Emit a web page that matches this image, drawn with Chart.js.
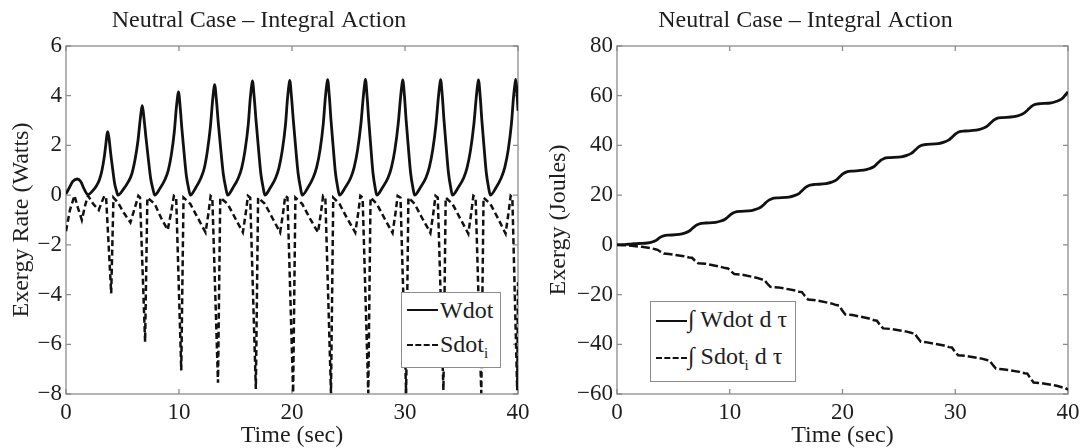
<!DOCTYPE html>
<html>
<head>
<meta charset="utf-8">
<script src="https://cdn.jsdelivr.net/npm/chart.js@4.4.0/dist/chart.umd.min.js"></script>
<style>
  html, body { margin: 0; padding: 0; background: #fff; }
  #wrap { position: relative; width: 1086px; height: 448px; background: #fff; overflow: hidden; }
  .cv { position: absolute; top: 0; }
  .lg { position: absolute; background: #fff; border: 1px solid #8c8c8c; box-sizing: border-box; }
  .txt { position: absolute; font-family: "Liberation Serif", "Times New Roman", serif; font-size: 24px; color: #1e1e1e; white-space: nowrap; line-height: 1; }
  .txt sub { font-size: 15px; vertical-align: -6px; }
  .solid { position: absolute; height: 0; border-top: 2.6px solid #111; }
  .dash { position: absolute; height: 0; border-top: 2.6px dashed #111; }
</style>
</head>
<body>
<div id="wrap">
  <canvas id="c1" class="cv" width="543" height="448" style="left:0"></canvas>
  <canvas id="c2" class="cv" width="543" height="448" style="left:543px"></canvas>

  <div class="lg" style="left:401px;top:292px;width:100px;height:76px"></div>
  <div class="solid" style="left:407px;top:309px;width:31px"></div>
  <div class="txt" style="left:440px;top:298px">Wdot</div>
  <div class="dash" style="left:407px;top:344px;width:31px"></div>
  <div class="txt" style="left:440px;top:332px">Sdot<sub>i</sub></div>

  <div class="lg" style="left:650px;top:301px;width:146px;height:81px"></div>
  <div class="solid" style="left:656px;top:320px;width:31px"></div>
  <div class="txt" style="left:688px;top:307px">∫ Wdot d τ</div>
  <div class="dash" style="left:656px;top:357px;width:31px"></div>
  <div class="txt" style="left:688px;top:344px">∫ Sdot<sub>i</sub> d τ</div>
</div>
<script>
// ---------------- data (time in s, value) ----------------
const titleText = 'Neutral Case \u2013 Integral Action';
const xTicks = [0, 10, 20, 30, 40];
const leftYTicks = [-8, -6, -4, -2, 0, 2, 4, 6];
const rightYTicks = [-60, -40, -20, 0, 20, 40, 60, 80];

const wdot = [
 [0,0.05],[0.3,0.3],[0.6,0.55],[1.0,0.65],[1.3,0.55],[1.6,0.25],[1.95,0.02],
 [2.35,0.17],[2.7,0.38],[2.95,0.61],[3.18,0.99],[3.4,1.58],[3.55,2.14],[3.62,2.42],[3.7,2.55],[3.83,2.2],[3.96,1.66],[4.13,1.05],[4.3,0.48],[4.47,0.17],[4.6,0],
 [5.07,0.23],[5.52,0.54],[5.83,0.86],[6.1,1.4],[6.38,2.23],[6.56,3.02],[6.67,3.42],[6.75,3.6],[6.9,3.1],[7.07,2.34],[7.28,1.48],[7.49,0.68],[7.7,0.23],[7.85,0],
 [8.31,0.27],[8.75,0.62],[9.05,1.0],[9.32,1.62],[9.59,2.57],[9.76,3.49],[9.87,3.94],[9.95,4.15],[10.1,3.57],[10.25,2.7],[10.45,1.7],[10.65,0.79],[10.85,0.27],[11.0,0],
 [11.47,0.29],[11.92,0.67],[12.23,1.07],[12.5,1.74],[12.78,2.76],[12.96,3.74],[13.07,4.23],[13.15,4.45],[13.31,3.83],[13.48,2.89],[13.7,1.82],[13.92,0.85],[14.14,0.29],[14.3,0],
 [14.78,0.3],[15.25,0.69],[15.55,1.1],[15.84,1.79],[16.13,2.85],[16.3,3.86],[16.42,4.37],[16.5,4.6],[16.65,3.96],[16.82,2.99],[17.03,1.89],[17.24,0.87],[17.45,0.3],[17.6,0],
 [18.08,0.3],[18.55,0.69],[18.85,1.11],[19.14,1.8],[19.43,2.86],[19.6,3.88],[19.72,4.39],[19.8,4.62],[19.95,3.97],[20.12,3.0],[20.33,1.89],[20.54,0.88],[20.75,0.3],[20.9,0],
 [21.4,0.3],[21.87,0.7],[22.18,1.12],[22.48,1.81],[22.77,2.88],[22.95,3.91],[23.07,4.42],[23.15,4.65],[23.3,4.0],[23.45,3.02],[23.65,1.91],[23.85,0.88],[24.05,0.3],[24.2,0],
 [24.7,0.3],[25.2,0.7],[25.5,1.12],[25.8,1.81],[26.1,2.88],[26.3,3.91],[26.42,4.43],[26.5,4.66],[26.64,4.0],[26.79,3.02],[26.98,1.91],[27.17,0.88],[27.36,0.3],[27.5,0],
 [28.0,0.3],[28.5,0.7],[28.8,1.12],[29.1,1.81],[29.4,2.88],[29.6,3.9],[29.72,4.41],[29.8,4.64],[29.95,4.0],[30.1,3.02],[30.3,1.91],[30.5,0.88],[30.7,0.3],[30.85,0],
 [31.35,0.3],[31.85,0.7],[32.15,1.12],[32.45,1.81],[32.75,2.88],[32.95,3.91],[33.07,4.42],[33.15,4.65],[33.3,4.0],[33.45,3.02],[33.65,1.91],[33.85,0.88],[34.05,0.3],[34.2,0],
 [34.7,0.3],[35.2,0.7],[35.5,1.12],[35.8,1.81],[36.1,2.88],[36.3,3.9],[36.42,4.41],[36.5,4.64],[36.65,4.0],[36.8,3.02],[37.0,1.91],[37.2,0.88],[37.4,0.3],[37.55,0],
 [38.05,0.3],[38.52,0.7],[38.83,1.12],[39.13,1.81],[39.42,2.88],[39.6,3.92],[39.72,4.43],[39.8,4.66],[39.9,4.2],[40.0,3.4]
];

const sdot = [
 [0,-1.45],[0.35,-0.6],[0.75,-0.02],[1.05,-0.5],[1.4,-1.0],[1.7,-0.4],[1.95,-0.02],[2.4,-0.35],[2.9,-0.6],[3.15,-0.3],[3.4,-0.03],[3.55,-0.1],[4.0,-3.95],[4.2,-0.1],
 [4.6,-0.3],[5.1,-0.7],[5.7,-1.1],[6.1,-0.5],[6.4,-0.03],[6.55,-0.1],[7.0,-5.9],[7.2,-0.1],
 [7.85,-0.35],[8.4,-0.9],[9.0,-1.4],[9.3,-0.7],[9.55,-0.03],[9.75,-0.1],[10.2,-7.05],[10.4,-0.1],
 [11.0,-0.35],[11.7,-0.95],[12.35,-1.5],[12.6,-0.75],[12.8,-0.03],[12.95,-0.1],[13.45,-7.55],[13.65,-0.1],
 [14.3,-0.35],[15.0,-0.95],[15.65,-1.5],[15.9,-0.75],[16.1,-0.03],[16.3,-0.1],[16.8,-7.8],[17.0,-0.1],
 [17.6,-0.35],[18.3,-0.95],[18.95,-1.5],[19.2,-0.75],[19.4,-0.03],[19.6,-0.1],[20.1,-7.95],[20.3,-0.1],
 [20.9,-0.35],[21.6,-0.95],[22.3,-1.5],[22.55,-0.75],[22.75,-0.03],[22.95,-0.1],[23.45,-7.97],[23.65,-0.1],
 [24.2,-0.35],[24.9,-0.95],[25.6,-1.5],[25.85,-0.75],[26.05,-0.03],[26.25,-0.1],[26.75,-7.97],[26.95,-0.1],
 [27.5,-0.35],[28.2,-0.95],[28.9,-1.52],[29.15,-0.75],[29.35,-0.03],[29.6,-0.1],[30.1,-7.97],[30.3,-0.1],
 [30.85,-0.35],[31.55,-0.95],[32.25,-1.52],[32.5,-0.75],[32.7,-0.03],[32.9,-0.1],[33.4,-7.85],[33.6,-0.1],
 [34.2,-0.35],[34.9,-0.95],[35.6,-1.55],[35.85,-0.75],[36.05,-0.03],[36.25,-0.1],[36.75,-7.97],[36.95,-0.1],
 [37.55,-0.35],[38.25,-0.95],[38.9,-1.55],[39.15,-0.75],[39.35,-0.03],[39.5,-0.1],[39.93,-7.85],[40.0,-3.5]
];

const intW = [
 [0,0],[0.5,0.05],[1.0,0.25],[1.5,0.45],[1.95,0.55],
 [2.7,0.75],[3.09,1.12],[3.4,1.62],[3.54,2.06],[3.7,2.59],[3.83,3.0],[3.96,3.33],[4.13,3.63],[4.3,3.82],[4.6,3.9],
 [5.52,4.19],[6.0,4.73],[6.38,5.47],[6.56,6.1],[6.75,6.89],[6.9,7.48],[7.07,7.97],[7.28,8.41],[7.49,8.68],[7.85,8.8],
 [8.75,9.08],[9.22,9.6],[9.59,10.3],[9.76,10.92],[9.95,11.67],[10.1,12.23],[10.25,12.7],[10.45,13.12],[10.65,13.38],[11.0,13.5],
 [11.92,13.82],[12.4,14.42],[12.78,15.23],[12.96,15.93],[13.15,16.79],[13.31,17.44],[13.48,17.98],[13.7,18.47],[13.92,18.77],[14.3,18.9],
 [15.25,19.22],[15.73,19.82],[16.13,20.63],[16.3,21.33],[16.5,22.19],[16.65,22.84],[16.82,23.38],[17.03,23.87],[17.24,24.17],[17.6,24.3],
 [18.55,24.62],[19.03,25.22],[19.43,26.03],[19.6,26.73],[19.8,27.59],[19.95,28.24],[20.12,28.78],[20.33,29.27],[20.54,29.57],[20.9,29.7],
 [21.87,30.02],[22.36,30.62],[22.77,31.43],[22.95,32.13],[23.15,32.99],[23.3,33.64],[23.45,34.18],[23.65,34.67],[23.85,34.97],[24.2,35.1],
 [25.2,35.42],[25.7,36.0],[26.1,36.8],[26.3,37.49],[26.5,38.33],[26.64,38.97],[26.79,39.5],[26.98,39.98],[27.17,40.27],[27.5,40.4],
 [28.5,40.72],[29.0,41.32],[29.4,42.13],[29.6,42.83],[29.8,43.69],[29.95,44.34],[30.1,44.88],[30.3,45.37],[30.5,45.67],[30.85,45.8],
 [31.85,46.12],[32.35,46.72],[32.75,47.53],[32.95,48.23],[33.15,49.09],[33.3,49.74],[33.45,50.28],[33.65,50.77],[33.85,51.07],[34.2,51.2],
 [35.2,51.54],[35.7,52.15],[36.1,53.0],[36.3,53.72],[36.5,54.62],[36.65,55.29],[36.8,55.85],[37.0,56.35],[37.2,56.66],[37.55,56.8],
 [38.52,57.15],[39.0,57.79],[39.42,58.66],[39.6,59.41],[39.8,60.5],[40.0,61.5]
];

const intS = [
 [0,0],[0.75,-0.2],[1.5,-0.45],[2.2,-0.8],[2.9,-1.25],[3.4,-1.75],[3.6,-2.0],[3.85,-2.75],[4.15,-3.5],
 [4.6,-3.67],[5.95,-4.6],[6.4,-5.08],[6.65,-5.2],[6.9,-6.3],[7.2,-7.4],
 [7.85,-7.61],[9.15,-8.77],[9.6,-9.35],[9.85,-9.5],[10.1,-10.6],[10.4,-11.7],
 [11.0,-11.93],[12.35,-13.2],[12.8,-13.84],[13.05,-14.0],[13.3,-15.45],[13.6,-16.9],
 [14.3,-17.11],[15.7,-18.27],[16.15,-18.85],[16.4,-19.0],[16.65,-20.5],[16.95,-22.0],
 [17.6,-22.24],[19.0,-23.56],[19.45,-24.23],[19.7,-24.4],[19.95,-26.2],[20.25,-28.0],
 [20.9,-28.25],[22.35,-29.63],[22.8,-30.33],[23.05,-30.5],[23.3,-32.05],[23.6,-33.6],
 [24.2,-33.8],[25.7,-34.9],[26.15,-35.46],[26.4,-35.6],[26.65,-37.3],[26.95,-39.0],
 [27.5,-39.23],[29.0,-40.5],[29.45,-41.14],[29.7,-41.3],[29.95,-42.85],[30.25,-44.4],
 [30.85,-44.61],[32.35,-45.77],[32.8,-46.35],[33.05,-46.5],[33.3,-48.15],[33.6,-49.8],
 [34.2,-50.0],[35.7,-51.1],[36.15,-51.66],[36.4,-51.8],[36.65,-53.6],[36.95,-55.4],
 [37.55,-55.6],[39.0,-56.7],[39.45,-57.26],[39.7,-57.4],[40.0,-58.3]
];

// ---------------- rendering ----------------
const FONT = 'Liberation Serif';
const TXT = '#1e1e1e';
const AXC = '#8c8c8c';

const framePlugin = {
  id: 'frame',
  beforeDatasetsDraw(chart) {
    const { ctx, chartArea: a, scales: { x, y } } = chart;
    ctx.save();
    ctx.strokeStyle = AXC;
    ctx.lineWidth = 1.3;
    ctx.strokeRect(a.left, a.top, a.right - a.left, a.bottom - a.top);
    const L = 5;
    ctx.beginPath();
    x.ticks.forEach(t => {
      const px = x.getPixelForValue(t.value);
      ctx.moveTo(px, a.bottom); ctx.lineTo(px, a.bottom - L);
      ctx.moveTo(px, a.top); ctx.lineTo(px, a.top + L);
    });
    y.ticks.forEach(t => {
      const py = y.getPixelForValue(t.value);
      ctx.moveTo(a.left, py); ctx.lineTo(a.left + L, py);
      ctx.moveTo(a.right, py); ctx.lineTo(a.right - L, py);
    });
    ctx.stroke();
    ctx.restore();
  }
};

const toXY = arr => arr.map(p => ({ x: p[0], y: p[1] }));
const minus = v => String(v).replace('-', '\u2212');

function makeChart(id, cfg) {
  return new Chart(document.getElementById(id), {
    type: 'line',
    data: { datasets: cfg.datasets },
    plugins: [framePlugin],
    options: {
      responsive: false,
      animation: false,
      events: [],
      layout: { padding: { left: 0, right: cfg.padRight, top: 0, bottom: 0 } },
      plugins: {
        legend: { display: false },
        tooltip: { enabled: false },
        title: {
          display: true, text: titleText, color: TXT,
          font: { family: FONT, size: 24, weight: 'normal', lineHeight: 1.2 },
          padding: { top: 6, bottom: 46 - 6 - 28.8 }
        }
      },
      scales: {
        x: {
          type: 'linear', min: xTicks[0], max: xTicks[xTicks.length - 1],
          afterBuildTicks: s => { s.ticks = xTicks.map(v => ({ value: v })); },
          afterFit: s => { s.height = 54; },
          grid: { display: false, drawTicks: false },
          border: { display: false },
          ticks: { color: TXT, font: { family: FONT, size: 23 }, padding: 5, maxRotation: 0, autoSkip: false },
          title: { display: true, text: 'Time (sec)', color: TXT,
                   font: { family: FONT, size: 24, lineHeight: 1.2 }, padding: { top: 0, bottom: -2 } }
        },
        y: {
          type: 'linear', min: cfg.yTicks[0], max: cfg.yTicks[cfg.yTicks.length - 1],
          afterBuildTicks: s => { s.ticks = cfg.yTicks.map(v => ({ value: v })); },
          afterFit: s => { s.width = cfg.yWidth; },
          grid: { display: false, drawTicks: false },
          border: { display: false },
          ticks: { color: TXT, font: { family: FONT, size: 23 }, padding: 4, callback: minus },
          title: { display: true, text: cfg.yTitle, color: TXT,
                   font: { family: FONT, size: 24, lineHeight: 1.2 }, padding: { top: cfg.yTitlePad, bottom: 0 } }
        }
      }
    }
  });
}

makeChart('c1', {
  yTicks: leftYTicks, yWidth: 66, padRight: 543 - 518, yTitle: 'Exergy Rate (Watts)', yTitlePad: 7,
  datasets: [
    { label: 'Wdot', data: toXY(wdot), borderColor: '#111', borderWidth: 2.8, pointRadius: 0,
      cubicInterpolationMode: 'monotone', fill: false },
    { label: 'Sdot_i', data: toXY(sdot), borderColor: '#111', borderWidth: 2.5, pointRadius: 0,
      borderDash: [6, 3.5], tension: 0, fill: false }
  ]
});

makeChart('c2', {
  yTicks: rightYTicks, yWidth: 74, padRight: 543 - 525, yTitle: 'Exergy (Joules)', yTitlePad: 1,
  datasets: [
    { label: '∫ Wdot d τ', data: toXY(intW), borderColor: '#111', borderWidth: 2.8, pointRadius: 0,
      cubicInterpolationMode: 'monotone', fill: false },
    { label: '∫ Sdot_i d τ', data: toXY(intS), borderColor: '#111', borderWidth: 2.5, pointRadius: 0,
      borderDash: [9, 3], tension: 0, fill: false }
  ]
});
</script>
</body>
</html>
